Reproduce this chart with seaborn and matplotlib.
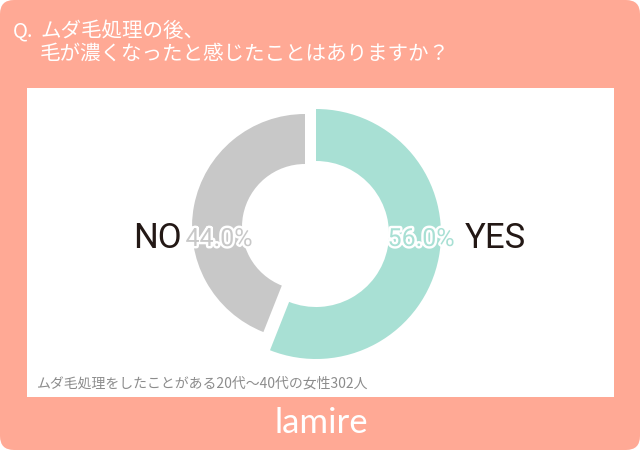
import matplotlib
matplotlib.use("Agg")
import matplotlib.pyplot as plt
import matplotlib.patheffects as pe
from matplotlib.patches import FancyBboxPatch, Rectangle
import seaborn as sns

# ---- data ----
categories = ["YES", "NO"]
values = [56.0, 44.0]
colors = ["#A8E0D4", "#C8C8C8"]
q_mark = "Q."
title_lines = ["ムダ毛処理の後、", "毛が濃くなったと感じたことはありますか？"]
note = "ムダ毛処理をしたことがある20代〜40代の女性302人"
brand = "lamire"

sns.set_theme(style="white")
plt.rcParams["font.family"] = ["Noto Sans CJK JP", "DejaVu Sans"]

W, H = 640, 450
fig = plt.figure(figsize=(6.4, 4.5), dpi=100)
fig.patch.set_facecolor("white")
ax = fig.add_axes([0, 0, 1, 1])


def Y(y):
    return H - y


# background card and white panel
ax.add_patch(FancyBboxPatch((0, 0), W, H, boxstyle="round,pad=0,rounding_size=14",
                            fc="#FFA995", ec="none", zorder=0))
ax.add_patch(Rectangle((27, Y(397)), 587, 309, fc="white", ec="none", zorder=1))

# donut: each slice drawn from the same pie, YES slice pulled out and slightly larger
specs = {1: ((305, Y(227)), 113, 50),   # NO
         0: ((316, Y(234)), 125, 52)}   # YES
for idx in [1, 0]:
    center, r, w = specs[idx]
    wedges, _ = ax.pie(values, colors=colors, startangle=90, counterclock=False,
                       center=center, radius=r, frame=True,
                       wedgeprops=dict(width=w, linewidth=0))
    for j, wdg in enumerate(wedges):
        wdg.set_visible(j == idx)
        wdg.set_zorder(2)

narrow = ["Roboto", "Liberation Sans", "DejaVu Sans"]
pct_pos = {0: 421, 1: 219}
lab_pos = {0: 495, 1: 157}
for i, (cat, v) in enumerate(zip(categories, values)):
    ax.text(pct_pos[i], Y(239), f"{v:.1f}%", ha="center", va="center",
            fontsize=18, family=narrow, color=colors[i], zorder=3,
            path_effects=[pe.withStroke(linewidth=3.5, foreground="white")])
    ax.text(lab_pos[i], Y(238), cat, ha="center", va="center",
            fontsize=25, family=narrow, color="#231815", zorder=3)

# title
ax.text(13, Y(31), q_mark, ha="left", va="center", fontsize=14.5, color="white",
        family=["Noto Sans CJK JP", "DejaVu Sans"], zorder=3)
ax.text(40, Y(31), title_lines[0], ha="left", va="center", fontsize=14.8, color="white",
        zorder=3)
ax.text(40, Y(54), title_lines[1], ha="left", va="center", fontsize=14.8, color="white",
        zorder=3)

# note
ax.text(37, Y(384), note, ha="left", va="center", fontsize=10, color="#8c8c8c", zorder=3)

# brand
ax.text(321, Y(423), brand, ha="center", va="center", fontsize=25, color="white",
        family=["Lato", "DejaVu Sans"], zorder=3)

ax.set_xlim(0, W)
ax.set_ylim(0, H)
ax.set_aspect("auto")
ax.axis("off")

fig.savefig("out.png", dpi=100, facecolor="white")
